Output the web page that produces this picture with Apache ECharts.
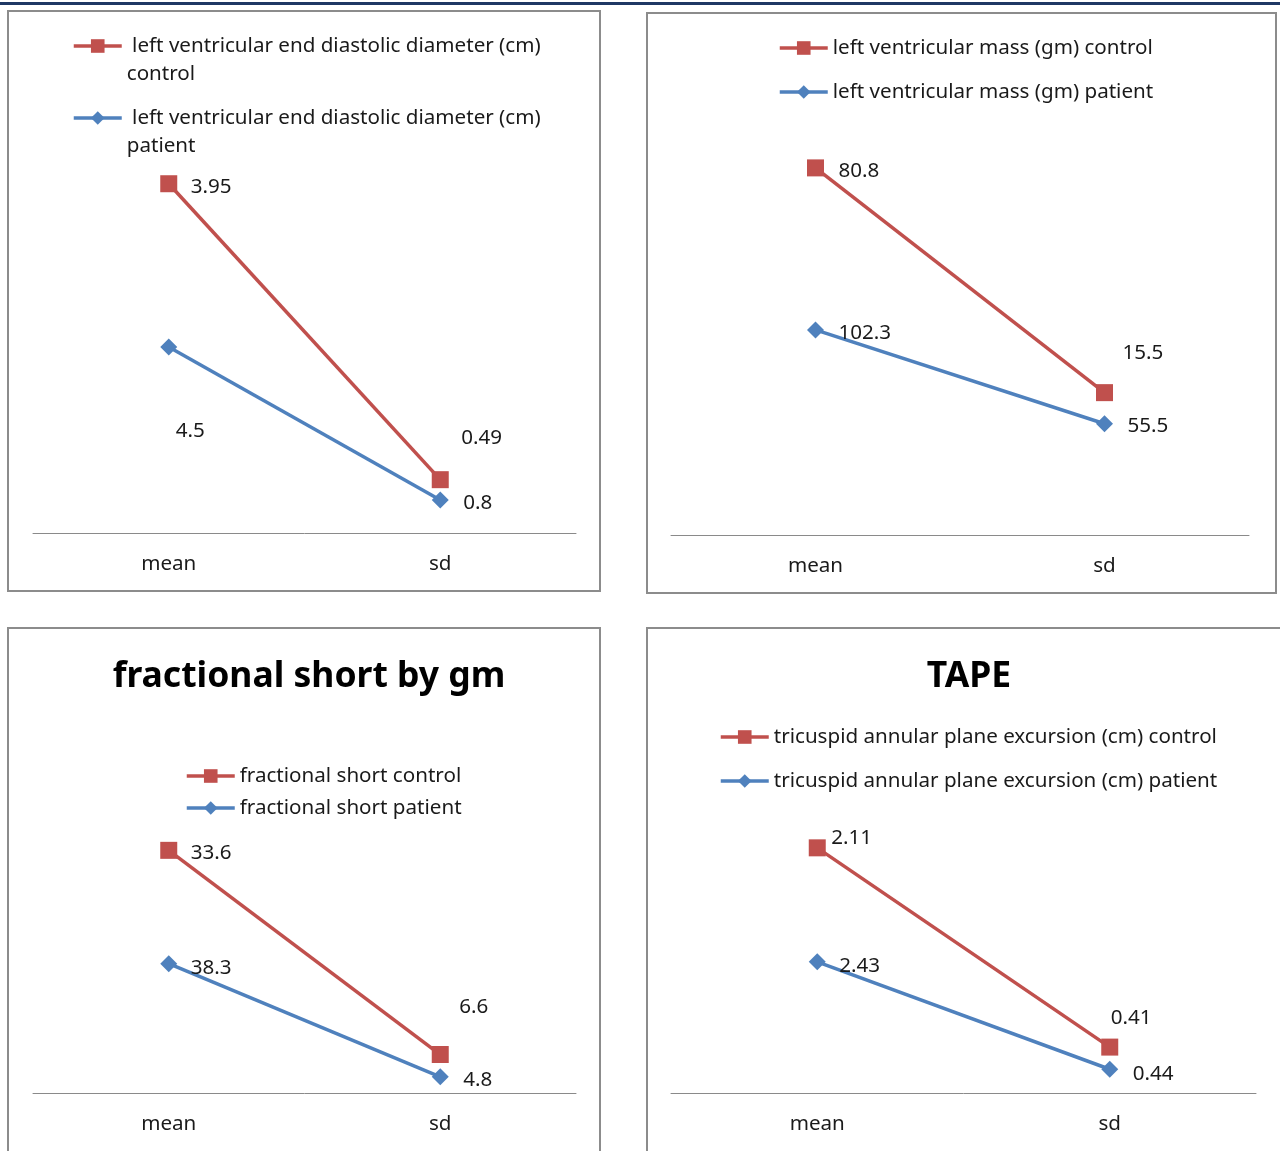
<!DOCTYPE html>
<html>
<head>
<meta charset="utf-8">
<style>
  html, body { margin: 0; padding: 0; background: #fff; }
  #chart { width: 1280px; height: 1151px; }
</style>
<script src="https://cdn.jsdelivr.net/npm/echarts@6/dist/echarts.min.js"></script>
</head>
<body>
<div id="chart"></div>
<script>
// Categories shared by all four panels
const categories = ['mean', 'sd'];

// Panel 1: left ventricular end diastolic diameter (cm)
const lveddControl = [3.95, 0.49];
const lveddPatient = [4.5, 0.8];
// Panel 2: left ventricular mass (gm)
const lvMassControl = [80.8, 15.5];
const lvMassPatient = [102.3, 55.5];
// Panel 3: fractional short
const fsControl = [33.6, 6.6];
const fsPatient = [38.3, 4.8];
// Panel 4: TAPE
const tapseControl = [2.11, 0.41];
const tapsePatient = [2.43, 0.44];

const RED = '#C0504D';
const BLUE = '#4F81BD';
const FONT = 'Noto Sans';
const FS = 20.6;
const TEXT = '#1a1a1a';

// Panel layout: plot area, value-axis max, label nudges [dx, dy] per point
const panels = [
  {
    names: ['left ventricular end diastolic diameter (cm) control', 'left ventricular end diastolic diameter (cm) patient'],
    control: lveddControl, patient: lveddPatient,
    grid: { left: 33, top: 161, width: 543, height: 372 }, max: 9,
    ctrlLabel: [[13.5, 3], [12.5, -42]], patLabel: [[-1.5, 84], [14.5, 3]],
    legend: { left: 72, tops: [4, 76], wrap: true }
  },
  {
    names: ['left ventricular mass (gm) control', 'left ventricular mass (gm) patient'],
    control: lvMassControl, patient: lvMassPatient,
    grid: { left: 671, top: 134, width: 578, height: 401 }, max: 200,
    ctrlLabel: [[14.5, 3], [9.5, -40]], patLabel: [[14.5, 3], [14.5, 2]],
    legend: { left: 778, tops: [36, 80] }
  },
  {
    names: ['fractional short control', 'fractional short patient'],
    control: fsControl, patient: fsPatient,
    grid: { left: 33, top: 823, width: 543, height: 270 }, max: 80,
    ctrlLabel: [[13.5, 3], [10.5, -47]], patLabel: [[13.5, 4], [14.5, 3]],
    legend: { left: 185, tops: [764, 796] }
  },
  {
    names: ['tricuspid annular plane excursion (cm) control', 'tricuspid annular plane excursion (cm) patient'],
    control: tapseControl, patient: tapsePatient,
    grid: { left: 671, top: 823, width: 585, height: 270 }, max: 5,
    ctrlLabel: [[5.5, -10], [-7.5, -29]], patLabel: [[13.5, 4], [14.5, 5]],
    legend: { left: 719, tops: [725, 769] }
  }
];

const grid = [], xAxis = [], yAxis = [], series = [], legend = [];

function withLabels(values, nudges) {
  return values.map((v, i) => ({ value: v, label: { offset: nudges[i] } }));
}

panels.forEach((p, i) => {
  grid.push(Object.assign({ containLabel: false }, p.grid));
  xAxis.push({
    type: 'category', gridIndex: i, data: categories, boundaryGap: true,
    axisLine: { lineStyle: { color: '#8a8a8a', width: 1 } },
    axisTick: { show: false },
    axisLabel: { color: TEXT, fontFamily: FONT, fontSize: FS, margin: 21 }
  });
  yAxis.push({
    type: 'value', gridIndex: i, min: 0, max: p.max, show: false,
    splitLine: { show: false }
  });
  const labelBase = {
    show: true, position: 'right', distance: 0,
    color: TEXT, fontFamily: FONT, fontSize: FS
  };
  // stacked lines: patient drawn first, control stacked on top of it
  series.push({
    name: p.names[1], type: 'line', xAxisIndex: i, yAxisIndex: i,
    stack: 'panel' + i,
    data: withLabels(p.patient, p.patLabel),
    symbol: 'diamond', symbolSize: 17,
    itemStyle: { color: BLUE },
    lineStyle: { color: BLUE, width: 3.5 },
    label: labelBase, z: 3
  });
  series.push({
    name: p.names[0], type: 'line', xAxisIndex: i, yAxisIndex: i,
    stack: 'panel' + i,
    data: withLabels(p.control, p.ctrlLabel),
    symbol: 'rect', symbolSize: 17,
    itemStyle: { color: RED },
    lineStyle: { color: RED, width: 3.5 },
    label: labelBase, z: 2
  });
  p.names.forEach((nm, k) => {
    const textStyle = { color: TEXT, fontFamily: FONT, fontSize: FS, lineHeight: 24 };
    let formatter = null;
    if (p.legend.wrap) {
      // leading blank line keeps the first text line level with the icon
      textStyle.lineHeight = 28;
      formatter = function (name) {
        const cut = name.lastIndexOf(' ');
        return '\n ' + name.slice(0, cut) + '\n' + name.slice(cut + 1);
      };
    }
    const lg = {
      data: [nm], orient: 'vertical', left: p.legend.left, top: p.legend.tops[k],
      padding: 0, itemWidth: 48, itemHeight: 17, itemGap: 0,
      selectedMode: false, textStyle: textStyle,
      lineStyle: { width: 3.5 }
    };
    if (formatter) lg.formatter = formatter;
    legend.push(lg);
  });
});

const option = {
  animation: false,
  backgroundColor: '#ffffff',
  title: [
    { text: 'fractional short by gm', left: 304, top: 654, textAlign: 'center',
      textStyle: { fontFamily: FONT, fontWeight: 'bold', fontSize: 35.5, color: '#000' } },
    { text: 'TAPE', left: 964, top: 654, textAlign: 'center',
      textStyle: { fontFamily: FONT, fontWeight: 'bold', fontSize: 35.5, color: '#000' } }
  ],
  grid: grid, xAxis: xAxis, yAxis: yAxis, series: series, legend: legend,
  graphic: [
    { type: 'rect', shape: { x: 0, y: 2, width: 1280, height: 3 }, style: { fill: '#1F3864' }, silent: true },
    { type: 'rect', shape: { x: 8, y: 11, width: 592, height: 580 }, style: { fill: 'none', stroke: '#8c8c8c', lineWidth: 2 }, silent: true },
    { type: 'rect', shape: { x: 647, y: 13, width: 629, height: 580 }, style: { fill: 'none', stroke: '#8c8c8c', lineWidth: 2 }, silent: true },
    { type: 'rect', shape: { x: 8, y: 628, width: 592, height: 540 }, style: { fill: 'none', stroke: '#8c8c8c', lineWidth: 2 }, silent: true },
    { type: 'rect', shape: { x: 647, y: 628, width: 660, height: 540 }, style: { fill: 'none', stroke: '#8c8c8c', lineWidth: 2 }, silent: true }
  ]
};

const chart = echarts.init(document.getElementById('chart'), null, { renderer: 'canvas' });
chart.setOption(option);
</script>
</body>
</html>
